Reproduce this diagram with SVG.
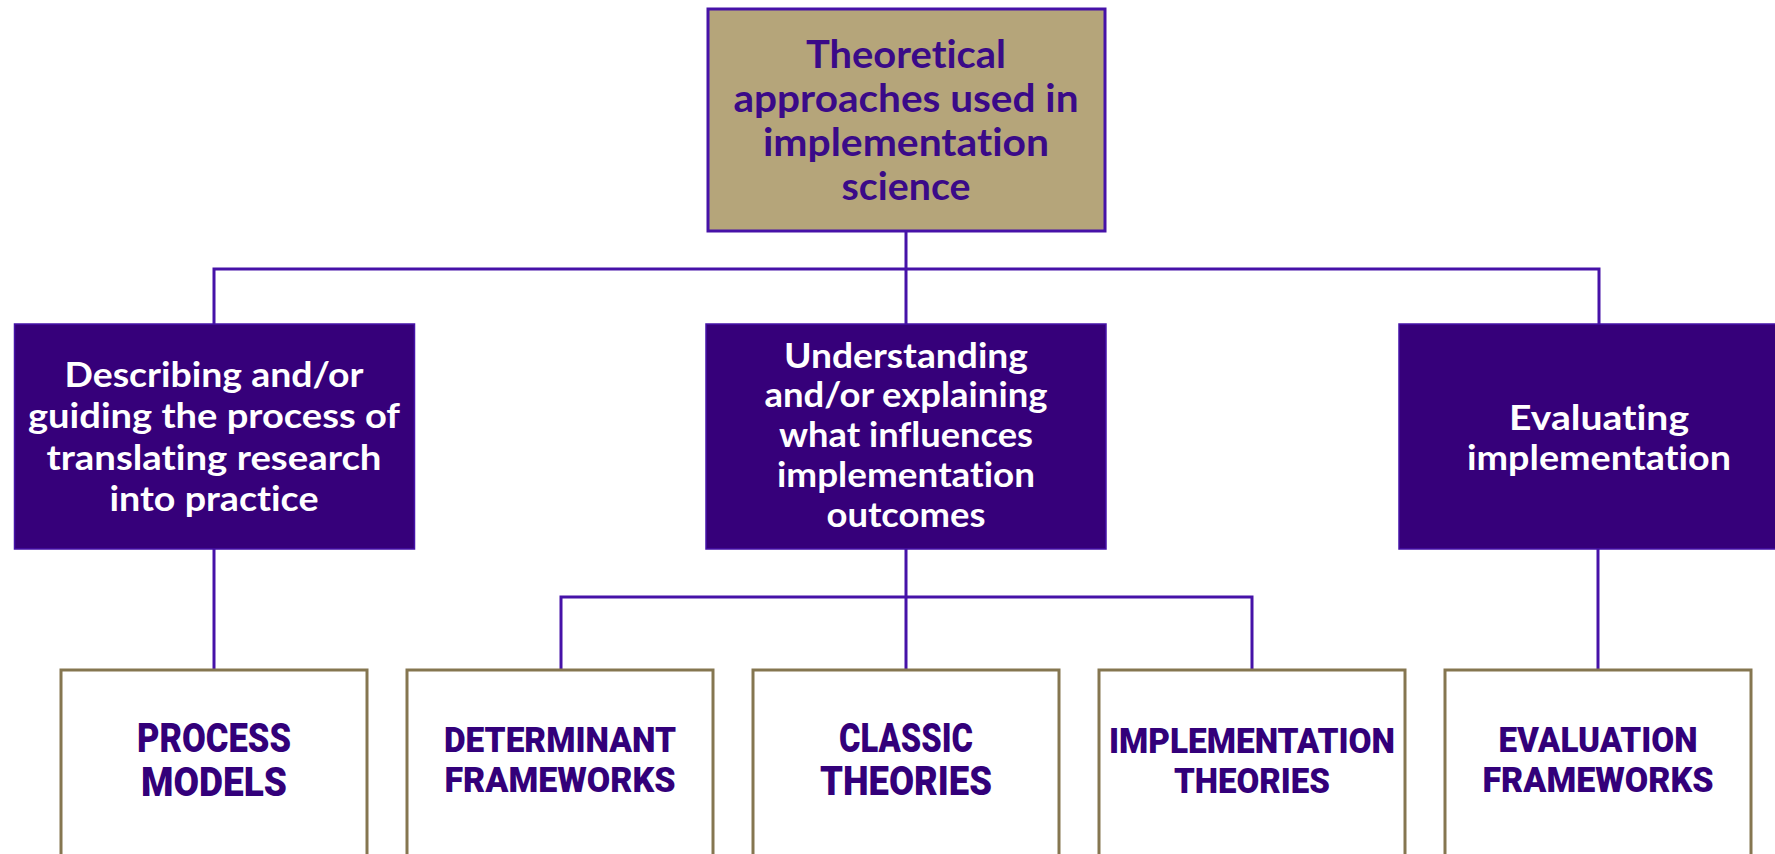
<svg xmlns="http://www.w3.org/2000/svg" width="1775" height="854" viewBox="0 0 1775 854">
<style>
.conn{fill:none;stroke:#4612a8;stroke-width:3;stroke-linecap:square}
.top{fill:#b5a57a;stroke:#4612a8;stroke-width:3}
.mid{fill:#36007a;stroke:#4612a8;stroke-width:1.5}
.bot{fill:#ffffff;stroke:#857650;stroke-width:3}
text{font-variant-ligatures:none;font-feature-settings:"liga" 0,"clig" 0}
.tt{font-family:Lato,"Open Sans",sans-serif;font-weight:700;font-size:39px;fill:#3a0a88;text-anchor:middle}
.mt{font-family:Lato,"Open Sans",sans-serif;font-weight:700;font-size:34px;fill:#ffffff;text-anchor:middle}
.bt{font-family:Roboto,"Liberation Sans",sans-serif;font-weight:900;fill:#33007a;text-anchor:middle}
.b1{font-size:40px}
.b2{font-size:35px}
</style>
<rect width="1775" height="854" fill="#ffffff"/>
<g id="connectors">
<path class="conn" d="M906 231 V324 M214 269 H1599 M214 269 V324 M1599 269 V324"/>
<path class="conn" d="M214 549 V670"/>
<path class="conn" d="M906 549 V670 M561 597 H1252 M561 597 V670 M1252 597 V670"/>
<path class="conn" d="M1598 549 V670"/>
</g>
<g id="root">
<rect class="top" x="708" y="9" width="397" height="222"/>
<text class="tt" x="906" y="68" textLength="200" lengthAdjust="spacingAndGlyphs">Theoretical</text>
<text class="tt" x="906" y="112" textLength="345" lengthAdjust="spacingAndGlyphs">approaches used in</text>
<text class="tt" x="906" y="156" textLength="286" lengthAdjust="spacingAndGlyphs">implementation</text>
<text class="tt" x="906" y="200" textLength="129" lengthAdjust="spacingAndGlyphs">science</text>
</g>
<g id="describing">
<rect class="mid" x="14.5" y="324" width="400" height="225"/>
<text class="mt" x="214" y="387" textLength="299" lengthAdjust="spacingAndGlyphs">Describing and/or</text>
<text class="mt" x="214" y="428" textLength="372" lengthAdjust="spacingAndGlyphs">guiding the process of</text>
<text class="mt" x="214" y="470" textLength="335" lengthAdjust="spacingAndGlyphs">translating research</text>
<text class="mt" x="214" y="511" textLength="209" lengthAdjust="spacingAndGlyphs">into practice</text>
</g>
<g id="understanding">
<rect class="mid" x="706" y="324" width="400" height="225"/>
<text class="mt" x="906" y="368" textLength="244" lengthAdjust="spacingAndGlyphs">Understanding</text>
<text class="mt" x="906" y="407" textLength="283" lengthAdjust="spacingAndGlyphs">and/or explaining</text>
<text class="mt" x="906" y="447" textLength="254" lengthAdjust="spacingAndGlyphs">what influences</text>
<text class="mt" x="906" y="487" textLength="258" lengthAdjust="spacingAndGlyphs">implementation</text>
<text class="mt" x="906" y="527" textLength="159" lengthAdjust="spacingAndGlyphs">outcomes</text>
</g>
<g id="evaluating">
<rect class="mid" x="1399" y="324" width="400" height="225"/>
<text class="mt" x="1599" y="430" textLength="180" lengthAdjust="spacingAndGlyphs">Evaluating</text>
<text class="mt" x="1599" y="470" textLength="264" lengthAdjust="spacingAndGlyphs">implementation</text>
</g>
<g id="process-models">
<rect class="bot" x="61" y="670" width="306" height="240"/>
<text class="bt b1" x="214" y="752" textLength="154" lengthAdjust="spacingAndGlyphs">PROCESS</text>
<text class="bt b1" x="214" y="796" textLength="146" lengthAdjust="spacingAndGlyphs">MODELS</text>
</g>
<g id="determinant-frameworks">
<rect class="bot" x="407" y="670" width="306" height="240"/>
<text class="bt b2" x="560" y="752" textLength="232" lengthAdjust="spacingAndGlyphs">DETERMINANT</text>
<text class="bt b2" x="560" y="792" textLength="231" lengthAdjust="spacingAndGlyphs">FRAMEWORKS</text>
</g>
<g id="classic-theories">
<rect class="bot" x="753" y="670" width="306" height="240"/>
<text class="bt b1" x="906" y="752" textLength="134" lengthAdjust="spacingAndGlyphs">CLASSIC</text>
<text class="bt b1" x="906" y="795" textLength="172" lengthAdjust="spacingAndGlyphs">THEORIES</text>
</g>
<g id="implementation-theories">
<rect class="bot" x="1099" y="670" width="306" height="240"/>
<text class="bt b2" x="1252" y="753" textLength="286" lengthAdjust="spacingAndGlyphs">IMPLEMENTATION</text>
<text class="bt b2" x="1252" y="793" textLength="156" lengthAdjust="spacingAndGlyphs">THEORIES</text>
</g>
<g id="evaluation-frameworks">
<rect class="bot" x="1445" y="670" width="306" height="240"/>
<text class="bt b2" x="1598" y="752" textLength="199" lengthAdjust="spacingAndGlyphs">EVALUATION</text>
<text class="bt b2" x="1598" y="792" textLength="231" lengthAdjust="spacingAndGlyphs">FRAMEWORKS</text>
</g>
</svg>
